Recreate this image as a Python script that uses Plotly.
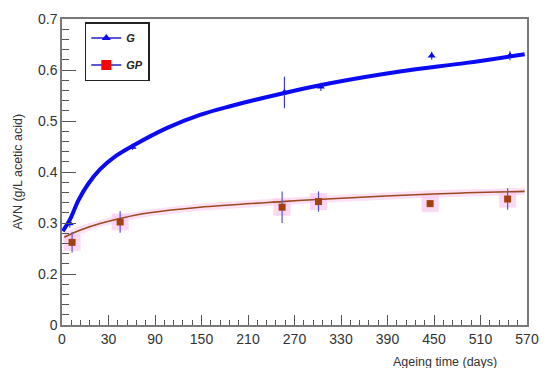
import plotly.graph_objects as go

# ---- data ----
g_days = [-20, 61, 257, 304, 447, 548]
g_avn = [0.299, 0.449, 0.556, 0.567, 0.628, 0.628]
g_err = [0.008, 0.006, 0.031, 0.008, 0.008, 0.009]

gp_days = [-17, 45, 254, 301, 445, 545]
gp_avn = [0.262, 0.302, 0.331, 0.342, 0.338, 0.347]
gp_err = [0.020, 0.021, 0.031, 0.020, 0.006, 0.021]

# fitted curves
g_fit_days = [-29, -20, -9, 3.5, 19, 40, 62, 105, 148, 187, 257, 316, 406, 492, 567]
g_fit_avn = [0.284, 0.306, 0.344, 0.376, 0.405, 0.432, 0.452, 0.486, 0.512, 0.529, 0.555, 0.574, 0.597, 0.614, 0.631]

gp_fit_days = [-27, -15, -7, 19, 45, 83, 148, 254, 299, 449, 567]
gp_fit_avn = [0.272, 0.281, 0.286, 0.299, 0.309, 0.320, 0.331, 0.342, 0.346, 0.357, 0.362]
gp_band_lo = [0.262, 0.272, 0.278, 0.292, 0.302, 0.313, 0.324, 0.335, 0.339, 0.350, 0.355]
gp_band_hi = [0.282, 0.290, 0.294, 0.306, 0.316, 0.327, 0.338, 0.349, 0.353, 0.364, 0.369]

x_tickvals = [-30, 30, 90, 150, 210, 270, 330, 390, 450, 510, 570]
x_ticktext = ["0", "30", "90", "150", "210", "270", "330", "390", "450", "510", "570"]
y_tickvals = [0.1, 0.2, 0.3, 0.4, 0.5, 0.6, 0.7]
y_ticktext = ["0", "0.2", "0.3", "0.4", "0.5", "0.6", "0.7"]

BLUE = "#0a0af5"
BROWN = "#9a4a1c"
PINK = "rgba(250,200,238,0.55)"
FONT = "Liberation Sans, Arial"

fig = go.Figure()

# pink confidence band along GP fit
fig.add_trace(go.Scatter(x=gp_fit_days + gp_fit_days[::-1], y=gp_band_hi + gp_band_lo[::-1],
                         fill="toself", fillcolor=PINK, line=dict(width=0),
                         mode="lines", showlegend=False, hoverinfo="skip"))
# pink boxes behind GP points
fig.add_trace(go.Scatter(x=gp_days, y=gp_avn, mode="markers",
                         marker=dict(symbol="square", size=17, color="rgba(250,200,238,0.7)"),
                         showlegend=False, hoverinfo="skip"))

# fits
fig.add_trace(go.Scatter(x=g_fit_days, y=g_fit_avn, mode="lines",
                         line=dict(color=BLUE, width=4, shape="spline", smoothing=1.0),
                         showlegend=False))
fig.add_trace(go.Scatter(x=gp_fit_days, y=gp_fit_avn, mode="lines",
                         line=dict(color=BROWN, width=1.6, shape="spline", smoothing=1.0),
                         showlegend=False))

# data points
fig.add_trace(go.Scatter(x=g_days, y=g_avn, mode="markers",
                         marker=dict(symbol="triangle-up", size=7, color=BLUE),
                         error_y=dict(type="data", array=g_err, color="#3a3ad8", thickness=1.2, width=0),
                         showlegend=False))
fig.add_trace(go.Scatter(x=gp_days, y=gp_avn, mode="markers",
                         marker=dict(symbol="square", size=7, color="#a3400f"),
                         error_y=dict(type="data", array=gp_err, color="#5a55d5", thickness=1.2, width=0),
                         showlegend=False))

# legend entries
fig.add_trace(go.Scatter(x=[None], y=[None], mode="lines+markers", name="<b><i>G</i></b>",
                         legendgroup="g",
                         line=dict(color="#2020c8", width=1.5),
                         marker=dict(symbol="triangle-up", size=8, color=BLUE)))
fig.add_trace(go.Scatter(x=[None], y=[None], mode="lines+markers", name="<b><i>GP</i></b>",
                         legendgroup="gp",
                         line=dict(color="#2020c8", width=1.5),
                         marker=dict(symbol="square", size=10, color="#ff0000")))

axis_common = dict(showgrid=False, zeroline=False, showline=True, mirror=True,
                   linecolor="#7a7a7a", linewidth=1.5, ticks="inside",
                   tickcolor="#555", tickfont=dict(family=FONT, size=14, color="#333"))

fig.update_xaxes(range=[-30, 570], tickmode="array", tickvals=x_tickvals, ticktext=x_ticktext,
                 ticklen=10, tickwidth=1,
                 minor=dict(tickmode="linear", tick0=-30, dtick=12, ticklen=5, ticks="inside",
                            tickcolor="#555", tickwidth=1),
                 **axis_common)
fig.update_yaxes(range=[0.1, 0.7], tickmode="array", tickvals=y_tickvals, ticktext=y_ticktext,
                 ticklen=14, tickwidth=1,
                 minor=dict(tickmode="linear", tick0=0.1, dtick=0.02, ticklen=7, ticks="inside",
                            tickcolor="#555", tickwidth=1),
                 **axis_common)

fig.update_layout(
    width=550, height=368,
    margin=dict(l=62, r=22, t=11, b=43),
    paper_bgcolor="white", plot_bgcolor="white",
    showlegend=True,
    legend=dict(x=0.049, y=0.99, xanchor="left", yanchor="top",
                bordercolor="#222", borderwidth=1.5, bgcolor="white",
                font=dict(family=FONT, size=11, color="#222"),
                itemwidth=30, traceorder="grouped", tracegroupgap=8),
    annotations=[
        dict(text="Ageing time (days)", xref="paper", yref="paper", x=0.94, y=-0.09,
             xanchor="right", yanchor="top", showarrow=False,
             font=dict(family=FONT, size=12.5, color="#333")),
        dict(text="AVN (g/L acetic acid)", xref="paper", yref="paper", x=-0.095, y=0.5,
             xanchor="center", yanchor="middle", textangle=-90, showarrow=False,
             font=dict(family=FONT, size=12.5, color="#333")),
    ],
)

fig.write_html("out.html", config={"displayModeBar": False},
               post_script="document.body.style.margin='0';document.body.style.padding='0';")
